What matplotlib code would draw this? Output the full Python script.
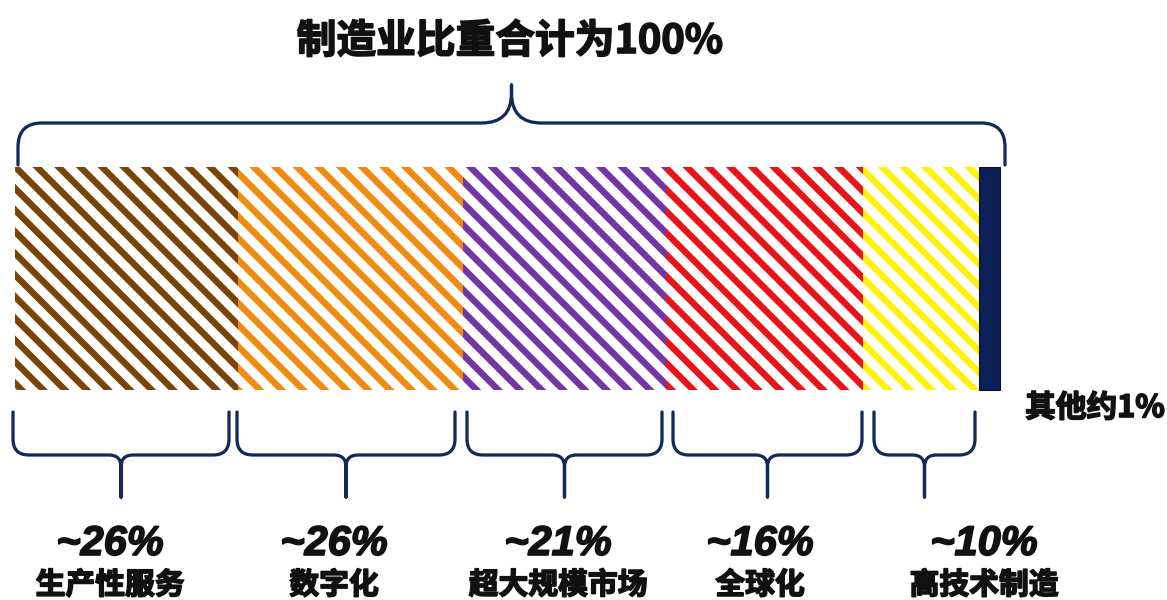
import matplotlib.pyplot as plt
import matplotlib.patheffects as pe
from matplotlib.path import Path
from matplotlib.patches import PathPatch
import numpy as np

# Data
categories = ['生产性服务', '数字化', '超大规模市场', '全球化', '高技术制造', '其他']
share_labels = ['~26%', '~26%', '~21%', '~16%', '~10%', '约1%']
bar_widths = [223, 225, 203, 197, 116, 21]      # widths as drawn in the picture
colors = ['#7a4308', '#f28a12', '#7236a6', '#e8141a', '#fff20a', '#0c2059']
title = '制造业比重合计为100%'
other_label = '其他约1%'

# layout (pixels)
brace_spans = [(13, 229), (237, 455), (467, 662), (673, 862), (874, 975)]
label_x = [110, 334, 558, 760, 984]

DPI = 130
plt.rcParams['hatch.linewidth'] = 3.6
cjk = ['Noto Sans CJK SC', 'DejaVu Sans']
navy = '#13295a'
heavy = [pe.withStroke(linewidth=0.9, foreground='#111111')]

fig = plt.figure(figsize=(1167 / DPI, 600 / DPI), dpi=DPI)
ax = fig.add_axes([0, 0, 1, 1])
ax.set_xlim(0, 1167)
ax.set_ylim(600, 0)
ax.axis('off')

# stacked bar
bar_x0 = 15
bar_top, bar_bot = 167, 390
lefts = bar_x0 + np.concatenate([[0], np.cumsum(bar_widths)[:-1]])
for i, (l, w, c) in enumerate(zip(lefts, bar_widths, colors)):
    if i < len(bar_widths) - 1:
        ax.barh((bar_top + bar_bot) / 2, w, height=bar_bot - bar_top, left=l,
                facecolor='white', edgecolor=c, hatch='\\\\', linewidth=0)
    else:
        ax.barh((bar_top + bar_bot) / 2, w, height=bar_bot - bar_top, left=l,
                facecolor=c, edgecolor='#111111', linewidth=0.6)


def brace(x0, x1, y_end, y_line, y_tip, r_end, r_mid):
    xm = (x0 + x1) / 2
    s = np.sign(y_tip - y_line)
    verts, codes = [], []
    for xe, d in ((x0, 1), (x1, -1)):
        verts += [(xe, y_end), (xe, y_line - s * r_end), (xe, y_line),
                  (xe + d * r_end, y_line), (xm - d * r_mid, y_line),
                  (xm, y_line), (xm, y_line + s * r_mid), (xm, y_tip)]
        codes += [Path.MOVETO, Path.LINETO, Path.CURVE3, Path.CURVE3,
                  Path.LINETO, Path.CURVE3, Path.CURVE3, Path.LINETO]
    ax.add_patch(PathPatch(Path(verts, codes), fill=False, edgecolor=navy,
                           linewidth=1.8, capstyle='round', joinstyle='round'))


# top brace over the whole bar
brace(18, 1005, 165, 123, 85, 24, 30)

# bottom braces per segment
for i in range(5):
    x0, x1 = brace_spans[i]
    brace(x0, x1, 412, 455, 497, 16, 12)
    ax.text(label_x[i], 555, share_labels[i], ha='center', va='baseline', fontsize=23,
            family='Liberation Sans', weight='bold', style='italic', color='#111111',
            path_effects=heavy)
    ax.text(label_x[i], 594, categories[i], ha='center', va='baseline', fontsize=16.5,
            family=cjk, weight='bold', color='#111111', path_effects=heavy)

ax.text(510, 53, title, ha='center', va='baseline', fontsize=22,
        family=cjk, weight='bold', color='#111111', path_effects=heavy)
ax.text(1095, 417, other_label, ha='center', va='baseline', fontsize=17,
        family=cjk, weight='bold', color='#111111', path_effects=heavy)

fig.savefig('out.png', dpi=DPI)
